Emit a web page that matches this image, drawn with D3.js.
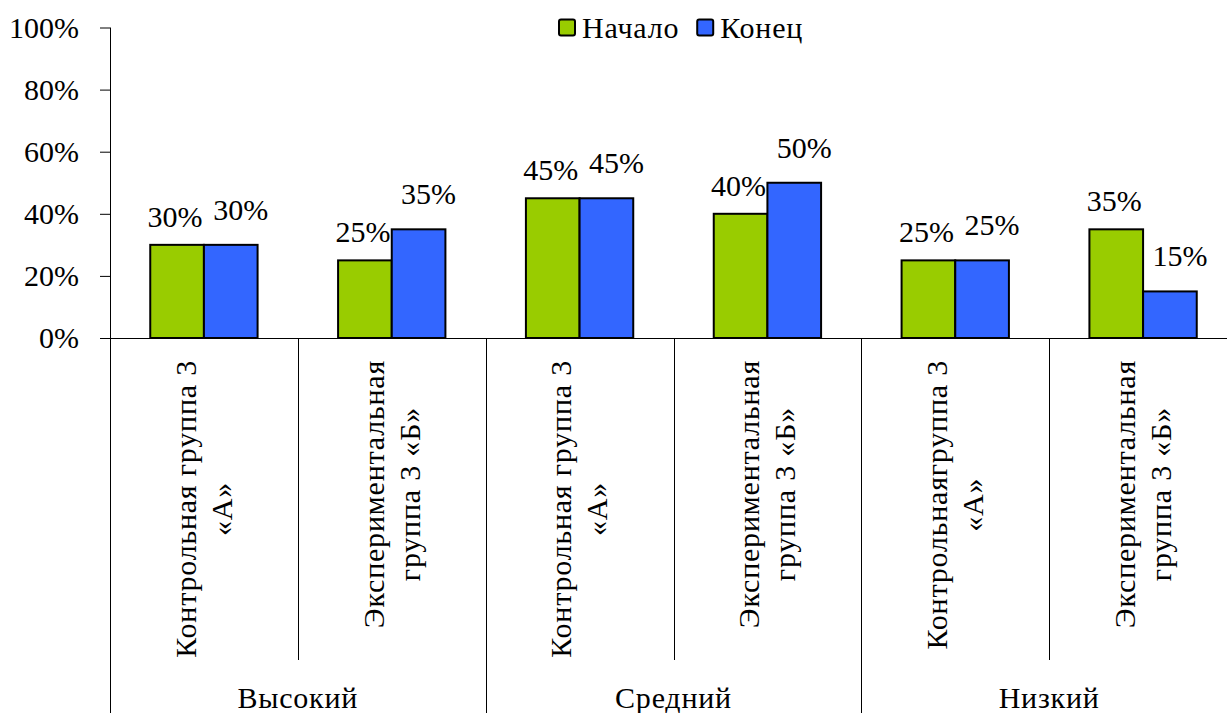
<!DOCTYPE html>
<html>
<head>
<meta charset="utf-8">
<script src="https://cdn.jsdelivr.net/npm/d3@7"></script>
<style>
  html, body { margin: 0; padding: 0; background: #fff; overflow: hidden; }
  svg { display: block; }
  svg text { font-family: "Liberation Serif", "Times New Roman", serif; }
  .cyr { letter-spacing: 0.8px; }
</style>
</head>
<body>
<svg id="chart" width="1227" height="713" style="font-family:'Liberation Serif'"></svg>
<script>
// data
const levels = ["Высокий", "Средний", "Низкий"];
const groups = [
  "Контрольная группа 3\n«А»",
  "Экспериментальная\nгруппа 3 «Б»",
  "Контрольная группа 3\n«А»",
  "Экспериментальная\nгруппа 3 «Б»",
  "Контрольнаягруппа 3\n«А»",
  "Экспериментальная\nгруппа 3 «Б»"
];
const seriesNames = ["Начало", "Конец"];
const startValues = [0.30, 0.25, 0.45, 0.40, 0.25, 0.35];
const endValues = [0.30, 0.35, 0.45, 0.50, 0.25, 0.15];
const yTicks = [0, 0.2, 0.4, 0.6, 0.8, 1.0];

const colors = ["#99CC00", "#3366FF"];
const fontSize = 30;
const serif = "Liberation Serif";

const svg = d3.select("#chart");
const W = 1227, H = 713;

const plot = { left: 110, right: 1237, top: 27.5, bottom: 338 };

const x0 = d3.scaleBand()
  .domain(d3.range(groups.length))
  .range([plot.left, plot.right])
  .paddingInner(0)
  .paddingOuter(0);

const x1 = d3.scaleBand()
  .domain(seriesNames)
  .range([0, x0.bandwidth()])
  .paddingInner(0)
  .paddingOuter(0.75);

const y = d3.scaleLinear()
  .domain([0, 1])
  .range([plot.bottom, plot.top]);

const color = d3.scaleOrdinal().domain(seriesNames).range(colors);

const rows = groups.map((g, i) => ({
  i,
  label: g,
  values: [
    { key: seriesNames[0], value: startValues[i] },
    { key: seriesNames[1], value: endValues[i] }
  ]
}));

// y axis
const yAxis = svg.append("g")
  .attr("transform", `translate(${plot.left},0)`)
  .call(d3.axisLeft(y)
    .tickValues(yTicks)
    .tickSize(10)
    .tickPadding(21)
    .tickFormat(d3.format(".0%")));

yAxis.attr("font-family", serif).attr("font-size", fontSize);
yAxis.select(".domain").remove();
yAxis.selectAll(".tick line").attr("stroke", "#000");
yAxis.selectAll(".tick text")
  .attr("fill", "#000")
  .attr("font-family", serif)
  .style("font-size", fontSize + "px");

svg.append("line")
  .attr("x1", plot.left + 0.5).attr("x2", plot.left + 0.5)
  .attr("y1", plot.top).attr("y2", H)
  .attr("stroke", "#000");

// bars
const groupG = svg.selectAll("g.grp")
  .data(rows)
  .enter()
  .append("g")
  .attr("class", "grp")
  .attr("transform", d => `translate(${x0(d.i)},0)`);

groupG.selectAll("rect")
  .data(d => d.values)
  .enter()
  .append("rect")
  .attr("x", d => x1(d.key))
  .attr("y", d => y(d.value))
  .attr("width", x1.bandwidth())
  .attr("height", d => y(0) - y(d.value))
  .attr("fill", d => color(d.key))
  .attr("stroke", "#000")
  .attr("stroke-width", 2);

// value labels (Конец labels sit a bit higher and to the right, as in the picture)
const labelShift = { "Начало": { dx: -2, up: 18 }, "Конец": { dx: 10, up: 25 } };
groupG.selectAll("text.val")
  .data(d => d.values)
  .enter()
  .append("text")
  .attr("class", "val")
  .attr("x", d => x1(d.key) + x1.bandwidth() / 2 + labelShift[d.key].dx)
  .attr("y", d => y(d.value) - labelShift[d.key].up)
  .attr("text-anchor", "middle")
  .attr("font-family", serif)
  .style("font-size", fontSize + "px")
  .attr("fill", "#000")
  .text(d => d3.format(".0%")(d.value));

// x axis line
svg.append("line")
  .attr("x1", plot.left - 10).attr("x2", W)
  .attr("y1", plot.bottom + 0.5).attr("y2", plot.bottom + 0.5)
  .attr("stroke", "#000");

// separators: short between groups in a level, long between levels
d3.range(1, groups.length + 1).forEach(k => {
  const xx = Math.round(plot.left + k * x0.step()) + 0.5;
  const long = k % 2 === 0;
  svg.append("line")
    .attr("x1", xx).attr("x2", xx)
    .attr("y1", plot.bottom)
    .attr("y2", long ? H : 660)
    .attr("stroke", "#000");
});

// rotated category labels
const lineH = 36;
const catTop = 360;
rows.forEach(d => {
  const lines = d.label.split("\n");
  const cx = x0(d.i) + x0.bandwidth() / 2;
  const t = svg.append("text")
    .attr("class", "cyr")
    .attr("text-anchor", "middle")
    .attr("font-family", serif)
    .style("font-size", fontSize + "px")
    .attr("fill", "#000");
  lines.forEach(l => t.append("tspan").text(l));
  let maxLen = 0;
  t.selectAll("tspan").each(function() {
    maxLen = Math.max(maxLen, this.getComputedTextLength());
  });
  const midY = catTop + maxLen / 2;
  t.attr("transform", `translate(${cx},${midY}) rotate(-90)`);
  t.selectAll("tspan")
    .attr("x", 0)
    .attr("y", (s, j) => (j - (lines.length - 1) / 2) * lineH + fontSize * 0.33);
});

// level labels
levels.forEach((lv, i) => {
  svg.append("text")
    .attr("class", "cyr")
    .attr("x", x0(i * 2) + x0.step())
    .attr("y", 708)
    .attr("text-anchor", "middle")
    .attr("font-family", serif)
    .style("font-size", fontSize + "px")
    .attr("fill", "#000")
    .text(lv);
});

// legend
const legend = svg.append("g").attr("transform", "translate(558,0)");
let lx = 0;
seriesNames.forEach((s, i) => {
  const item = legend.append("g").attr("transform", `translate(${lx},0)`);
  item.append("rect")
    .attr("x", 1).attr("y", 19.5)
    .attr("width", 16).attr("height", 16)
    .attr("rx", 2)
    .attr("fill", color(s))
    .attr("stroke", "#000")
    .attr("stroke-width", 2);
  const txt = item.append("text")
    .attr("class", "cyr")
    .attr("x", 24)
    .attr("y", 38)
    .attr("font-family", serif)
    .style("font-size", fontSize + "px")
    .attr("fill", "#000")
    .text(s);
  lx += 24 + txt.node().getComputedTextLength() + 17;
});
</script>
</body>
</html>
